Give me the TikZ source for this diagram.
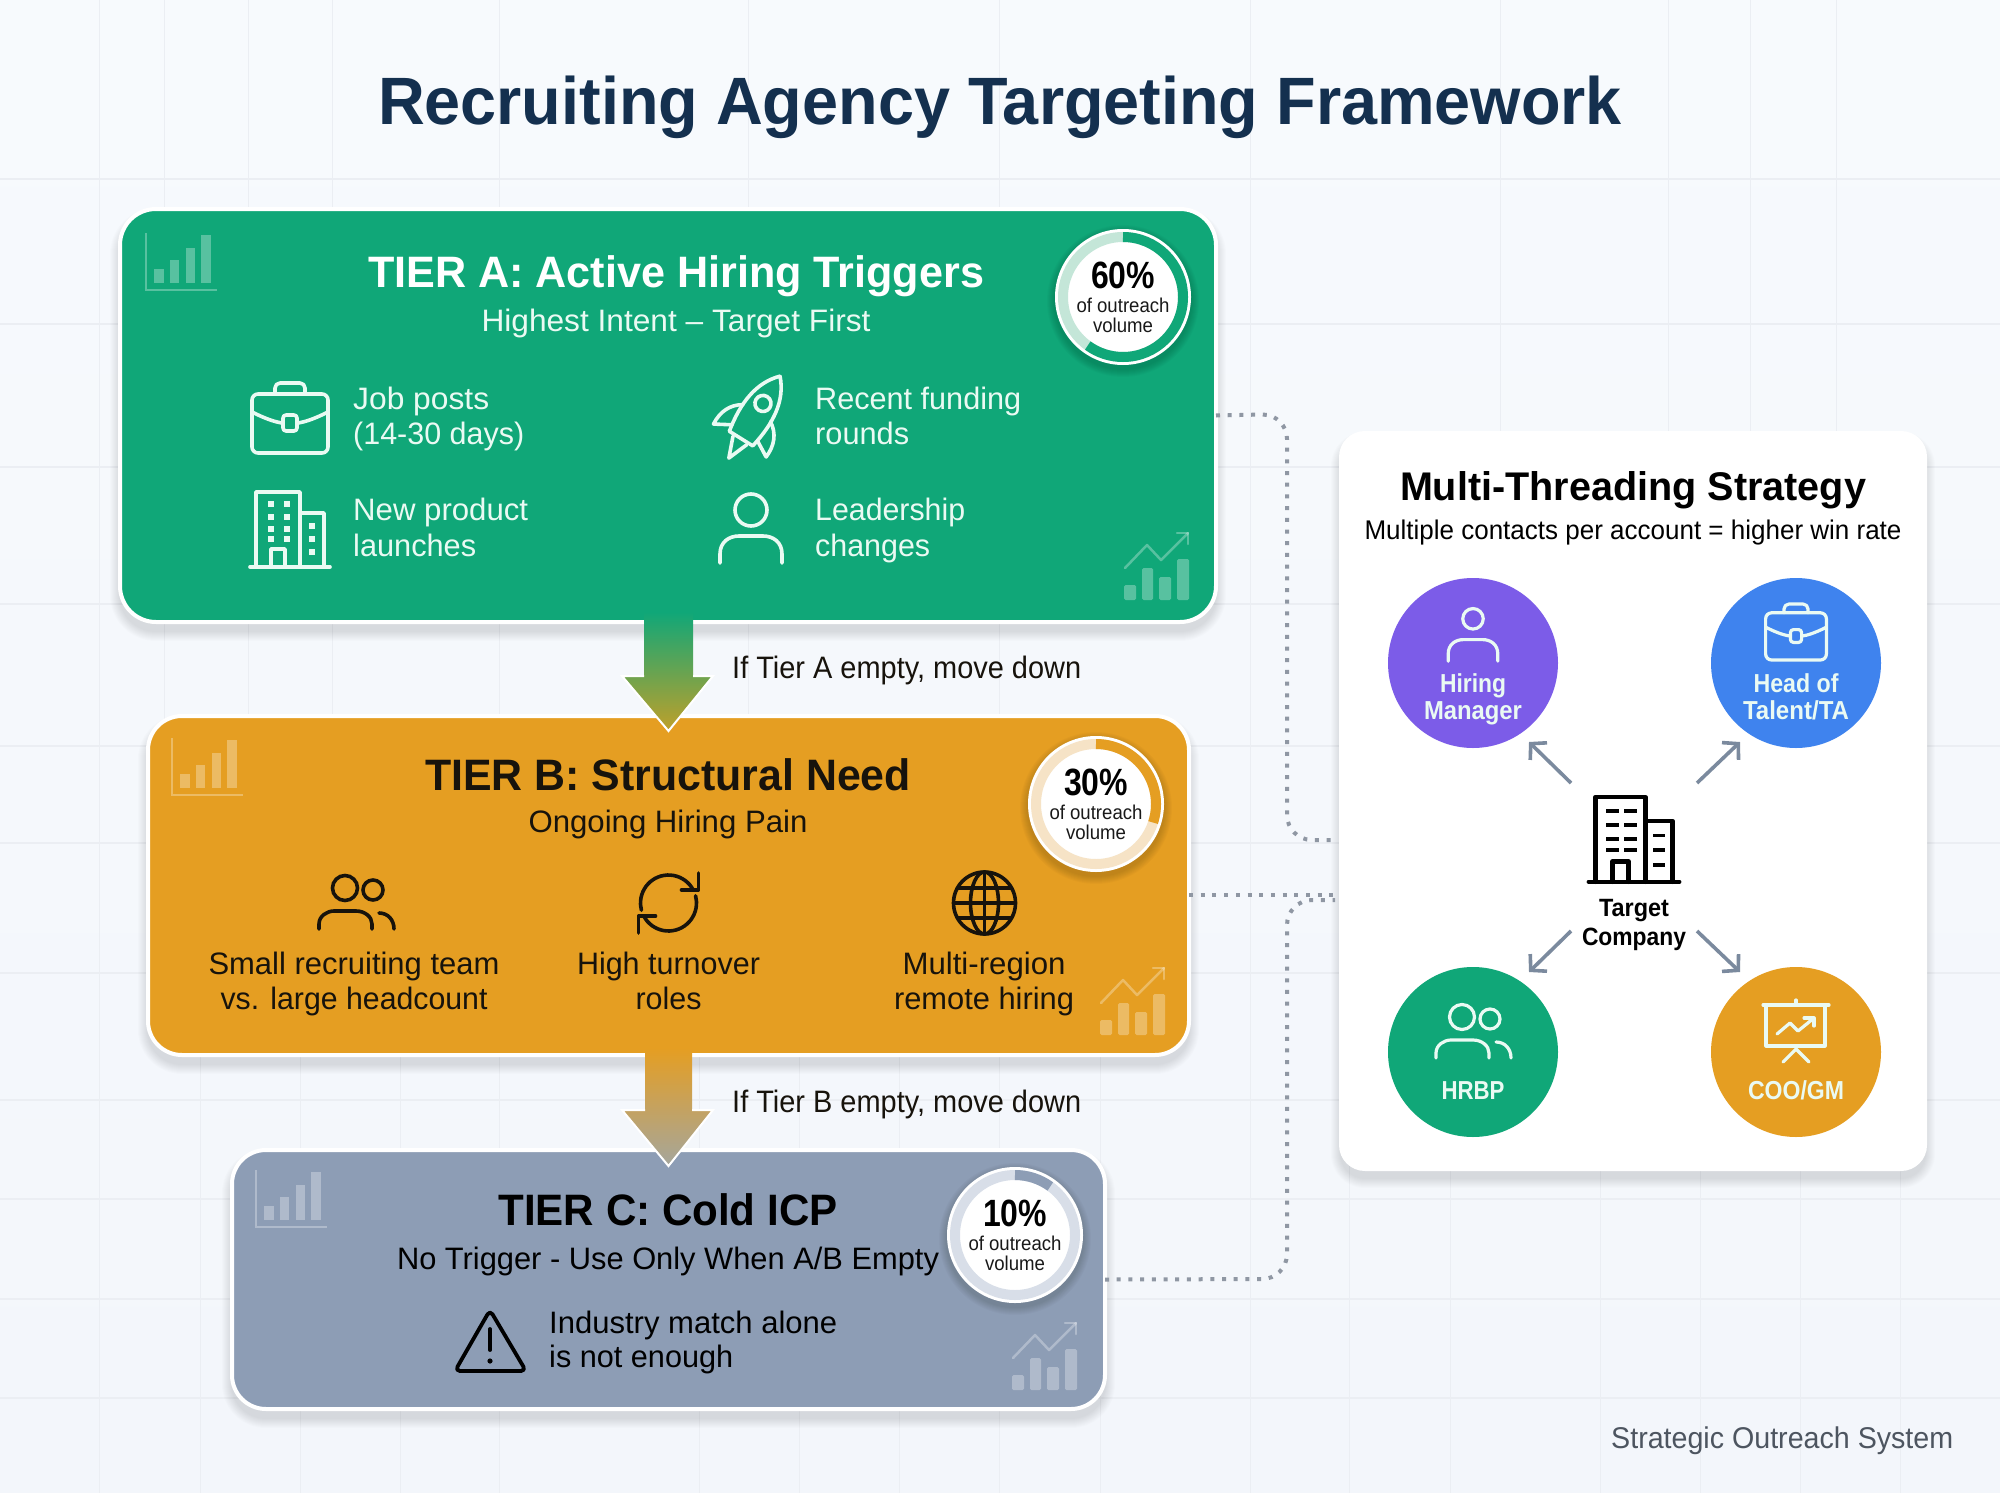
\documentclass[tikz,border=0pt]{standalone}
\usepackage{fontspec}
\usepackage{graphicx}
\setmainfont{Liberation Sans}
\usetikzlibrary{arrows.meta,calc}
\definecolor{bgtop}{HTML}{F7FAFD}
\definecolor{bgbot}{HTML}{F3F6FB}
\definecolor{gridc}{HTML}{EBEEF3}
\definecolor{navy}{HTML}{14304F}
\definecolor{tierA}{HTML}{10A778}
\definecolor{tierB}{HTML}{E59E22}
\definecolor{tierC}{HTML}{8D9DB5}
\definecolor{paleA}{HTML}{C4E6D8}
\definecolor{paleB}{HTML}{F6E3C6}
\definecolor{paleC}{HTML}{D8DEE8}
\definecolor{inkk}{HTML}{17130C}
\definecolor{dotc}{HTML}{8F97A3}
\definecolor{slate}{HTML}{7B8A9E}
\definecolor{purp}{HTML}{7C5CE8}
\definecolor{blu}{HTML}{3F83EE}
\definecolor{foot}{HTML}{4D5560}
\definecolor{softw}{HTML}{EAFAF3}
\definecolor{arrowmidA}{HTML}{BFA02A}
\definecolor{arrowendB}{HTML}{A5A69C}
\newsavebox\fwbox
\newcommand\fw[2]{\sbox\fwbox{#2}\pgfmathsetmacro\fwratio{#1/\wd\fwbox}\scalebox{\fwratio}[1]{\usebox\fwbox}}
% name x y anchor size width color text
\newcommand\tx[8]{\node[anchor=#4,inner sep=0pt,text=#7] (#1) at (#2,#3) {\fw{#6}{\fontsize{#5}{#5}\selectfont #8}};}
\newcommand\softshadow[5]{\foreach \i in {1,...,10}{\pgfmathsetmacro\rr{#5+\i}\fill[black,opacity=.011,rounded corners=\rr pt] ({#1-\i},{#2-\i+9}) rectangle ({#3+\i},{#4+\i+9});}}
\newcommand\card[7]{\softshadow{#2}{#3}{#4}{#5}{#7}
 \node[draw=white,line width=4pt,fill=#6,inner sep=0pt,outer sep=0pt,rounded corners=#7 pt,minimum width={(#4-#2)*1pt},minimum height={(#5-#3)*1pt}] (#1) at ({(#2+#4)/2},{(#3+#5)/2}) {};}
% badge: name x y pale strong endangle pct
\newcommand\badge[7]{\foreach \i in {1,...,8}{\fill[black,opacity=.02] (#2,{#3+4}) circle[radius={(68+\i)*1pt}];}
 \node[circle,fill=white,inner sep=0pt,outer sep=0pt,minimum size=136pt] (#1) at (#2,#3) {};
 \draw[#4,line width=10pt] (#1) circle[radius=60pt];
 \draw[#5,line width=10pt] ([shift={(90:60pt)}]#1.center) arc[start angle=90,end angle=#6,radius=60pt];
 \tx{#1p}{#2}{#3-9}{base}{38}{64}{black}{\bfseries #7}
 \tx{#1o}{#2}{#3+15}{base}{20}{93}{black!90}{of outreach}
 \tx{#1v}{#2}{#3+35}{base}{20}{60}{black!90}{volume}}
\newcommand\icbrief[5]{\begin{scope}[shift={(#1,#2)},scale=#3,draw=#4,line width=#5,line cap=round,line join=round]
 \draw[rounded corners=6pt] (-38,-24) rectangle (38,35);
 \draw[rounded corners=5pt] (-15,-24) -- (-15,-35) -- (15,-35) -- (15,-24);
 \draw (-38,-6) .. controls (-22,2) and (-14,4) .. (-8,5);
 \draw (8,5) .. controls (14,4) and (22,2) .. (38,-6);
 \draw[rounded corners=3pt] (-7,-3) rectangle (7,13);
 \end{scope}}
\newcommand\icperson[5]{\begin{scope}[shift={(#1,#2)},scale=#3,draw=#4,line width=#5,line cap=round,line join=round]
 \draw (0,-19) circle[radius={#3*16pt}];
 \draw (-31,34) -- (-31,25) .. controls (-31,13) and (-22,7) .. (-12,7) -- (12,7) .. controls (22,7) and (31,13) .. (31,25) -- (31,34);
 \end{scope}}
\newcommand\icgroup[5]{\begin{scope}[shift={(#1,#2)},scale=#3,draw=#4,line width=#5,line cap=round,line join=round]
 \draw (-11,-15) circle[radius={#3*12.5pt}];
 \draw (17,-13) circle[radius={#3*10pt}];
 \draw (-37,26) -- (-37,21) .. controls (-37,13) and (-29,8) .. (-22,8) -- (0,8) .. controls (9,8) and (16,14) .. (16,21) -- (16,26);
 \draw (23,10) .. controls (32,10) and (38,17) .. (38,26);
 \end{scope}}
% x y scale colour lw winw winh
\newcommand\icbuild[7]{\begin{scope}[shift={(#1,#2)},scale=#3,draw=#4,line width=#5,line cap=round,line join=round]
 \draw (-40,37) -- (40,37);
 \draw (-34,37) -- (-34,-38) -- (10,-38) -- (10,37);
 \draw (10,-17) -- (34,-17) -- (34,37);
 \draw (-19,37) -- (-19,19) -- (-5,19) -- (-5,37);
 \foreach \wx/\wy in {-19/-26,-3/-26,-19/-13,-3/-13,-19/-1,-3/-1,-19/9,-3/9,22/-4,22/9,22/22}{
  \fill[#4] ({\wx-#6/2},{\wy-#7/2}) rectangle ({\wx+#6/2},{\wy+#7/2});}
 \end{scope}}
\newcommand\icchart[1]{\begin{scope}[shift={#1},draw=white,line width=2.5pt,fill=white,opacity=.3]
 \draw (0,0) -- (0,57) -- (71,57);
 \fill (8,36) rectangle (18,50);
 \fill (24,27) rectangle (33,50);
 \fill (40,15) rectangle (49,50);
 \fill (55,2) rectangle (65,50);
 \end{scope}}
\newcommand\ictrend[1]{\begin{scope}[shift={#1},draw=white,line width=2.5pt,fill=white,opacity=.3,line cap=round,line join=round]
 \draw (1,35) -- (23,12) -- (37,27) -- (64,0);
 \draw (53,0) -- (64,0) -- (64,11);
 \fill[rounded corners=1.5pt] (0,52) rectangle (12,67);
 \fill[rounded corners=1.5pt] (18,35) rectangle (29,67);
 \fill[rounded corners=1.5pt] (35,44) rectangle (47,67);
 \fill[rounded corners=1.5pt] (53,26) rectangle (65,67);
 \end{scope}}
\tikzset{
 dotted link/.style={draw=dotc,line width=4pt,dash pattern=on 4pt off 7.7pt,rounded corners=25pt},
 role/.style={circle,inner sep=0pt,outer sep=0pt,minimum size=170pt},
 spoke/.style={draw=slate,line width=3.6pt,-{Straight Barb[length=11pt,width=24pt,line width=3.6pt]}},
 flow edge/.style={draw=white,line width=2pt,line join=miter}
}
\begin{document}
\begin{tikzpicture}[x=1pt,y=-1pt]
\useasboundingbox (0,0) rectangle (2000,1493);
\shade[top color=bgtop,bottom color=bgbot] (0,0) rectangle (2000,1493);
% grid
\foreach \gy in {179,324,467,604,746,843,973,1100,1199,1299,1398}{\draw[gridc,line width=1.2pt] (0,\gy) -- (2000,\gy);}
\foreach \gx in {99,164,248,332,499,748,999,1250,1500,1668,1750,1836}{\draw[gridc,line width=1pt] (\gx,0) -- (\gx,860);}
\foreach \gx in {99,200,300,400,499,699,799,899,999,1100,1250,1349,1450,1600,1700,1800,1900}{\draw[gridc,line width=1pt] (\gx,860) -- (\gx,1493);}
% title
\tx{title}{1000}{125}{base}{67}{1244}{navy}{\bfseries Recruiting Agency Targeting Framework}
% cards
\card{tA}{120}{209}{1216}{622}{tierA}{36}
\card{panel}{1341}{433}{1925}{1169}{white}{24}
% dotted links
\coordinate (pA) at (1335,840);
\coordinate (pB) at (1335,895);
\coordinate (pC) at (1335,900);
\coordinate (cTop) at (1287,414);
\coordinate (cBot) at (1287,840);
\coordinate (cTop3) at (1287,900);
\coordinate (cBot3) at (1287,1279);
\card{tC}{232}{1150}{1105}{1409}{tierC}{34}
\card{tB}{148}{716}{1189}{1055}{tierB}{34}
\draw[dotted link] (tA.east) -- (cTop) -- (cBot) -- (pA);
\draw[dotted link] ([yshift=-9.5pt]tB.east) -- (pB);
\draw[dotted link] (tC.east) -- (cBot3) -- (cTop3) -- (pC);
% flow arrows
\shade[top color=tierA,bottom color=arrowmidA] (644,612) -- (693,612) -- (693,676) -- (713,676) -- (668.5,731) -- (622,676) -- (644,676) -- cycle;
\draw[flow edge] (644,676) -- (622,676) -- (668.5,731) -- (713,676) -- (693,676);
\shade[top color=tierB,bottom color=arrowendB] (645,1048) -- (692,1048) -- (692,1110) -- (713,1110) -- (668.5,1166) -- (622,1110) -- (645,1110) -- cycle;
\draw[flow edge] (645,1110) -- (622,1110) -- (668.5,1166) -- (713,1110) -- (692,1110);
\tx{lblA}{732}{678}{base west}{31}{349}{inkk}{If Tier A empty, move down}
\tx{lblB}{732}{1112}{base west}{31}{349}{inkk}{If Tier B empty, move down}
% faint charts
\icchart{(146,233)}\ictrend{(1124,533)}
\icchart{(172,738)}\ictrend{(1100,968)}
\icchart{(256,1170)}\ictrend{(1012,1323)}
% Tier A
\tx{hA}{676}{287}{base}{44}{616}{white}{\bfseries TIER A: Active Hiring Triggers}
\tx{sA}{676}{331}{base}{31}{389}{softw}{Highest Intent – Target First}
\icbrief{290}{418}{1}{softw}{3.6pt}
\tx{a1a}{353}{409}{base west}{31}{136}{softw}{Job posts}
\tx{a1b}{353}{444}{base west}{31}{171}{softw}{(14-30 days)}
\begin{scope}[shift={(752,421)},rotate=-32,scale=1.15,draw=softw,line width=3.6pt,line cap=round,line join=round]
 \draw (0,-46) .. controls (15,-30) and (17,-8) .. (12,18) -- (-12,18) .. controls (-17,-8) and (-15,-30) .. (0,-46);
 \draw (0,-18) circle[radius=7pt];
 \draw (-14,-8) .. controls (-24,-2) and (-28,8) .. (-27,20) -- (-13,12);
 \draw (14,-8) .. controls (24,-2) and (28,8) .. (27,20) -- (13,12);
 \draw (-7,20) -- (0,38) -- (7,20);
\end{scope}
\tx{a2a}{815}{409}{base west}{31}{206}{softw}{Recent funding}
\tx{a2b}{815}{444}{base west}{31}{94}{softw}{rounds}
\icbuild{290}{530}{1}{softw}{3.6pt}{6}{6}
\tx{a3a}{353}{520}{base west}{31}{175}{softw}{New product}
\tx{a3b}{353}{556}{base west}{31}{123}{softw}{launches}
\icperson{751}{529}{1}{softw}{3.6pt}
\tx{a4a}{815}{520}{base west}{31}{150}{softw}{Leadership}
\tx{a4b}{815}{556}{base west}{31}{115}{softw}{changes}
\badge{bA}{1123}{297}{paleA}{tierA}{-126}{60\%}
% Tier B
\tx{hB}{668}{790}{base}{44}{486}{inkk}{\bfseries TIER B: Structural Need}
\tx{sB}{668}{832}{base}{31}{279}{inkk}{Ongoing Hiring Pain}
\icgroup{356}{903}{1}{inkk}{3.6pt}
\tx{b1a}{354}{974}{base}{31}{291}{inkk}{Small recruiting team}
\tx{b1b}{354}{1009}{base}{31}{267}{inkk}{vs. large headcount}
\begin{scope}[shift={(668.5,903)},draw=inkk,line width=3.6pt,line cap=round,line join=round]
 \draw plot[smooth,domain=195:28,samples=14] ({28*cos(\x)},{-28*sin(\x)});
 \draw (30,-30) -- (30,-13) -- (13,-13);
 \draw plot[smooth,domain=15:-152,samples=14] ({28*cos(\x)},{-28*sin(\x)});
 \draw (-30,30) -- (-30,13) -- (-13,13);
\end{scope}
\tx{b2a}{668.5}{974}{base}{31}{183}{inkk}{High turnover}
\tx{b2b}{668.5}{1009}{base}{31}{66}{inkk}{roles}
\begin{scope}[shift={(984.5,903)},draw=inkk,line width=3.6pt]
 \draw (0,0) circle[radius=31pt];
 \draw (0,0) ellipse[x radius=14pt,y radius=31pt];
 \draw (0,-31) -- (0,31);
 \draw (-31,0) -- (31,0);
 \draw (-27,-15) -- (27,-15);
 \draw (-27,15) -- (27,15);
\end{scope}
\tx{b3a}{984}{974}{base}{31}{163}{inkk}{Multi-region}
\tx{b3b}{984}{1009}{base}{31}{180}{inkk}{remote hiring}
\badge{bB}{1096}{804}{paleB}{tierB}{-18}{30\%}
% Tier C
\tx{hC}{668}{1225}{base}{44}{339}{black}{\bfseries TIER C: Cold ICP}
\tx{sC}{668}{1269}{base}{31}{542}{black}{No Trigger - Use Only When A/B Empty}
\begin{scope}[draw=black,line width=3.8pt,line join=round,line cap=round]
 \draw[rounded corners=5pt] (490,1310) -- (526,1371) -- (455,1371) -- cycle;
 \draw (490,1329) -- (490,1350);
 \fill[black] (490,1361) circle[radius=2.6pt];
\end{scope}
\tx{c1a}{549}{1333}{base west}{31}{288}{black}{Industry match alone}
\tx{c1b}{549}{1367}{base west}{31}{184}{black}{is not enough}
\badge{bC}{1015}{1235}{paleC}{tierC}{54}{10\%}
% Panel
\tx{pH}{1633}{500}{base}{40}{466}{black}{\bfseries Multi-Threading Strategy}
\tx{pS}{1633}{539}{base}{27}{537}{black}{Multiple contacts per account = higher win rate}
\node[role,fill=purp] (hm) at (1473,663) {};
\node[role,fill=blu] (ht) at (1796,663) {};
\node[role,fill=tierA] (hr) at (1473,1052) {};
\node[role,fill=tierB] (co) at (1796,1052) {};
\icperson{1473}{634}{.8}{softw}{3.2pt}
\tx{hm1}{1473}{692}{base}{26}{66}{softw}{\bfseries Hiring}
\tx{hm2}{1473}{719}{base}{26}{98}{softw}{\bfseries Manager}
\icbrief{1796}{632}{.8}{softw}{3.2pt}
\tx{ht1}{1796}{692}{base}{26}{85}{softw}{\bfseries Head of}
\tx{ht2}{1796}{719}{base}{26}{106}{softw}{\bfseries Talent/TA}
\icgroup{1473}{1032}{1}{softw}{3.2pt}
\tx{hr1}{1473}{1099}{base}{26}{63}{softw}{\bfseries HRBP}
\begin{scope}[draw=softw,line width=3.2pt,line cap=round,line join=round]
 \draw (1763,1005) -- (1829,1005);
 \draw (1796,1000) -- (1796,1005);
 \draw (1766,1005) -- (1766,1046) -- (1825,1046) -- (1825,1005);
 \draw (1777,1034) -- (1790,1023) -- (1798,1031) -- (1814,1018);
 \draw (1804,1018) -- (1814,1018) -- (1814,1026);
 \draw (1783,1062) -- (1796,1049) -- (1809,1062);
\end{scope}
\tx{co1}{1796}{1099}{base}{26}{96}{softw}{\bfseries COO/GM}
\icbuild{1634}{840}{1.13}{black}{4.5pt}{11}{3.5}
\tx{tg1}{1634}{916}{base}{25}{70}{black}{\bfseries Target}
\tx{tg2}{1634}{945}{base}{25}{104}{black}{\bfseries Company}
\coordinate (s1) at (1571,783);\coordinate (e1) at (1529,742);
\coordinate (s2) at (1697,783);\coordinate (e2) at (1740,742);
\coordinate (s3) at (1571,931);\coordinate (e3) at (1529,972);
\coordinate (s4) at (1697,931);\coordinate (e4) at (1740,972);
\draw[spoke] (s1) -- (e1);
\draw[spoke] (s2) -- (e2);
\draw[spoke] (s3) -- (e3);
\draw[spoke] (s4) -- (e4);
\tx{ft}{1611}{1448}{base west}{30}{342}{foot}{Strategic Outreach System}
\end{tikzpicture}
\end{document}
